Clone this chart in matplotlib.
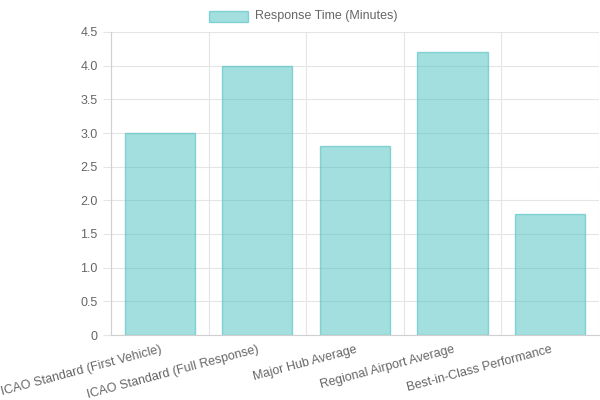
import matplotlib
matplotlib.use("Agg")
import matplotlib.pyplot as plt
from matplotlib.patches import Rectangle
import numpy as np

categories = ["ICAO Standard (First Vehicle)", "ICAO Standard (Full Response)",
              "Major Hub Average", "Regional Airport Average", "Best-in-Class Performance"]
values = [3.0, 4.0, 2.8, 4.2, 1.8]
series_name = "Response Time (Minutes)"

plt.rcParams['font.family'] = ['Liberation Sans', 'DejaVu Sans']
fig = plt.figure(figsize=(6, 4), dpi=100)
ax = fig.add_axes([0.185, 0.1625, 0.813, 0.7575])
x = np.arange(len(categories))
ax.bar(x, values, width=0.72, color=(75/255, 192/255, 192/255, 0.5),
       edgecolor=(75/255, 192/255, 192/255, 0.6), linewidth=1, zorder=2)
ax.set_xlim(-0.5, len(categories) - 0.5)
ax.set_ylim(0, 4.5)
ax.set_yticks(np.arange(0, 4.51, 0.5))
ax.set_yticklabels(["0"] + [f"{v:.1f}" for v in np.arange(0.5, 4.51, 0.5)])
ax.set_xticks(x)
ax.set_xticklabels(categories, rotation=15, ha='right', rotation_mode='anchor')
ax.set_xticks(np.arange(-0.5, len(categories), 1), minor=True)
ax.grid(True, axis='y', color='#e5e5e5', linewidth=0.8, zorder=0)
ax.grid(True, axis='x', which='minor', color='#e5e5e5', linewidth=0.8, zorder=0)
ax.tick_params(axis='x', which='major', length=0, colors='#666666', labelsize=9, pad=6)
ax.tick_params(axis='x', which='minor', length=0)
ax.tick_params(axis='y', length=6, color='#e5e5e5', colors='#666666', labelsize=9)
for s in ax.spines.values():
    s.set_visible(False)
ax.spines['left'].set_visible(True)
ax.spines['left'].set_color('#d0d0d0')
ax.spines['bottom'].set_visible(True)
ax.spines['bottom'].set_color('#d0d0d0')

fig.patches.append(Rectangle((209/600, 1 - 22/400), 39/600, 11/400, transform=fig.transFigure,
                             facecolor=(75/255, 192/255, 192/255, 0.5),
                             edgecolor=(75/255, 192/255, 192/255, 0.6), linewidth=1))
fig.text(255/600, 1 - 16.5/400, series_name, fontsize=9, color='#666666', va='center', ha='left')
fig.savefig("out.png", dpi=100)
